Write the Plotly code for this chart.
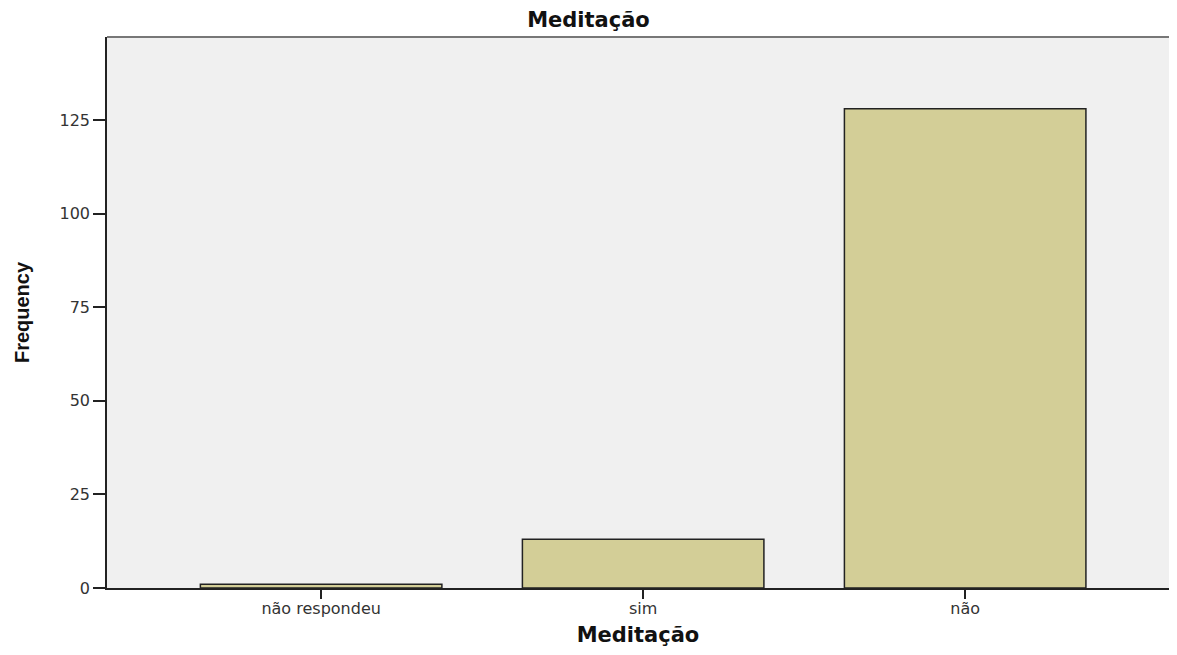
import plotly.graph_objects as go

categories = ["não respondeu", "sim", "não"]
frequencies = [1, 13, 128]
y_ticks = [0, 25, 50, 75, 100, 125]

TXT = "DejaVu Sans, Liberation Sans, Arial"

fig = go.Figure()
fig.add_trace(go.Bar(
    x=categories, y=frequencies, width=0.75,
    marker=dict(color="#d3ce97", line=dict(color="#222222", width=1.5)),
))

# browser body margin of 8px on every side; size the figure to fit the window
fig.update_layout(
    width=1161, height=639,
    margin=dict(l=99, r=0, t=29, b=55),
    paper_bgcolor="white", plot_bgcolor="#f0f0f0",
    showlegend=False,
    title=dict(text="<b>Meditação</b>", x=0.5, xanchor="center", y=0.982, yanchor="middle",
               font=dict(family=TXT, size=21, color="#111")),
    font=dict(family=TXT, size=16, color="#333"),
)
fig.update_xaxes(
    type="category", range=[-0.665, 2.633],
    showline=True, linecolor="#222", linewidth=1.5,
    ticks="outside", ticklen=9, tickcolor="#222", tickwidth=1.5,
    ticklabelstandoff=-4,
    showgrid=False,
    tickfont=dict(family=TXT, size=16, color="#333"),
    title=dict(text="<b>Meditação</b>", font=dict(family=TXT, size=21, color="#111"), standoff=14),
)
fig.update_yaxes(
    range=[0, 147.2], tickvals=y_ticks,
    showline=True, linecolor="#222", linewidth=1.5,
    ticks="outside", ticklen=12, tickcolor="#222", tickwidth=1.5,
    showgrid=False, zeroline=False,
    tickfont=dict(family=TXT, size=16, color="#333"),
    title=dict(text="<b>Frequency</b>", font=dict(family="Liberation Sans Narrow, Liberation Sans, Arial", size=20, color="#111"), standoff=25),
)
fig.add_shape(type="line", xref="paper", yref="paper", x0=0, x1=1, y0=1, y1=1,
              line=dict(color="#777", width=2))

fig.write_html("out.html")
